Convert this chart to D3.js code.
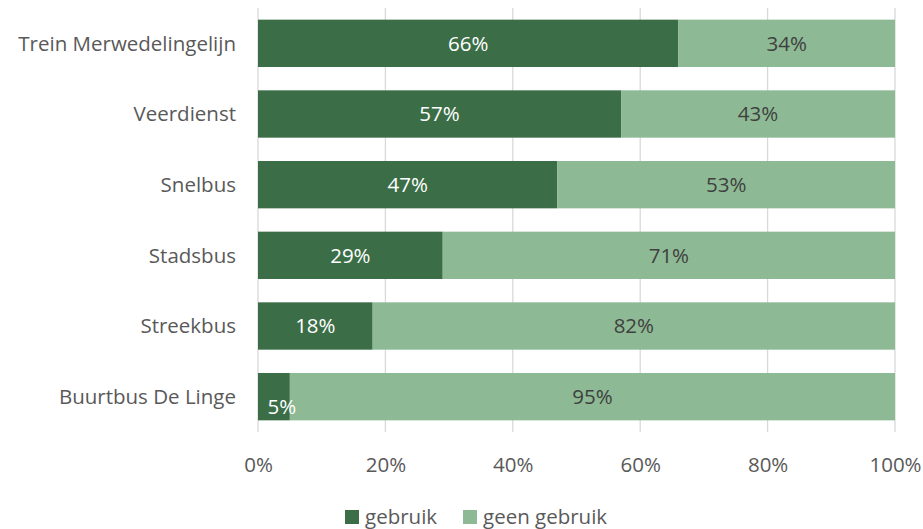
<!DOCTYPE html>
<html>
<head>
<meta charset="utf-8">
<script src="https://cdn.jsdelivr.net/npm/d3@7"></script>
<style>
  body { margin: 0; background: #fff; }
  text { font-family: "Open Sans", "Liberation Sans", sans-serif; }
</style>
</head>
<body>
<div id="chart"></div>
<script>
var categories = ["Trein Merwedelingelijn", "Veerdienst", "Snelbus", "Stadsbus", "Streekbus", "Buurtbus De Linge"];
var gebruik = [66, 57, 47, 29, 18, 5];
var geenGebruik = [34, 43, 53, 71, 82, 95];
var ticks = [0, 20, 40, 60, 80, 100];
var seriesNames = ["gebruik", "geen gebruik"];
var colors = ["#3b6e47", "#8dba94"];
var labelColors = ["#ffffff", "#404040"];

var width = 923, height = 529;
var margin = { top: 8, left: 258, right: 28, bottom: 97 };
var fs = 20.5;

var svg = d3.select("#chart").append("svg")
  .attr("width", width)
  .attr("height", height);

var x = d3.scaleLinear().domain([0, 100]).range([margin.left, width - margin.right]);
var y = d3.scaleBand().domain(categories).range([margin.top, height - margin.bottom]).paddingInner(0.33).paddingOuter(0.165);

// gridlines
svg.append("g").selectAll("line").data(ticks).enter().append("line")
  .attr("x1", function(d) { return x(d); })
  .attr("x2", function(d) { return x(d); })
  .attr("y1", margin.top)
  .attr("y2", height - margin.bottom)
  .attr("stroke", "#d9d9d9")
  .attr("stroke-width", 1.3);

var rows = categories.map(function(c, i) {
  return { cat: c, vals: [gebruik[i], geenGebruik[i]] };
});

var stacked = [];
rows.forEach(function(r) {
  var start = 0;
  r.vals.forEach(function(v, s) {
    stacked.push({ cat: r.cat, s: s, x0: start, x1: start + v, v: v });
    start += v;
  });
});

svg.append("g").selectAll("rect").data(stacked).enter().append("rect")
  .attr("x", function(d) { return x(d.x0); })
  .attr("width", function(d) { return x(d.x1) - x(d.x0); })
  .attr("y", function(d) { return y(d.cat); })
  .attr("height", y.bandwidth())
  .attr("fill", function(d) { return colors[d.s]; });

// value labels; the tiny 5% one sits a bit right and low like Excel does
svg.append("g").selectAll("text").data(stacked).enter().append("text")
  .attr("x", function(d) { return x((d.x0 + d.x1) / 2) + (d.v < 10 ? 8 : 0); })
  .attr("y", function(d) { return y(d.cat) + y.bandwidth() / 2 + (d.v < 10 ? 10 : 0); })
  .attr("dy", "0.35em")
  .attr("text-anchor", "middle")
  .attr("font-size", fs)
  .attr("fill", function(d) { return labelColors[d.s]; })
  .text(function(d) { return d.v + "%"; });

// category labels
svg.append("g").selectAll("text").data(categories).enter().append("text")
  .attr("x", margin.left - 22)
  .attr("y", function(d) { return y(d) + y.bandwidth() / 2; })
  .attr("dy", "0.35em")
  .attr("text-anchor", "end")
  .attr("font-size", fs)
  .attr("fill", "#595959")
  .text(function(d) { return d; });

// x axis labels
var xAxis = d3.axisBottom(x).tickValues(ticks).tickSize(0).tickPadding(25)
  .tickFormat(function(d) { return d + "%"; });
var gx = svg.append("g")
  .attr("transform", "translate(0," + (height - margin.bottom) + ")")
  .call(xAxis);
gx.select(".domain").remove();
gx.selectAll("text").attr("font-size", fs).attr("fill", "#595959")
  .style("font-family", "'Open Sans', sans-serif");

// legend
var legend = svg.append("g").attr("transform", "translate(345,510)");
var lx = [0, 118];
seriesNames.forEach(function(n, i) {
  var g = legend.append("g").attr("transform", "translate(" + lx[i] + ",0)");
  g.append("rect").attr("width", 14).attr("height", 14).attr("fill", colors[i]);
  g.append("text").attr("x", 20).attr("y", 7).attr("dy", "0.35em")
    .attr("font-size", fs).attr("fill", "#595959").text(n);
});
</script>
</body>
</html>
